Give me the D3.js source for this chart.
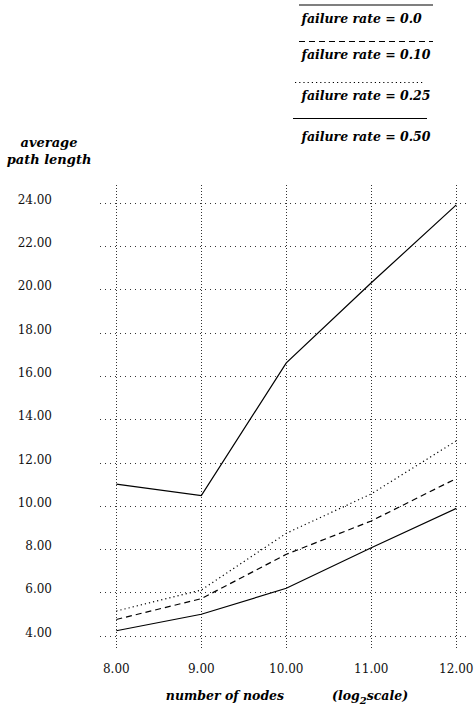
<!DOCTYPE html>
<html><head><meta charset="utf-8">
<script src="https://cdn.jsdelivr.net/npm/d3@7"></script>
<style>
html,body{margin:0;padding:0;background:#fff;}
svg{display:block;}
.tick{font-family:"DejaVu Serif",serif;font-size:12px;fill:#111;}
.bi{font-family:"DejaVu Serif",serif;font-size:12.5px;font-weight:bold;font-style:italic;fill:#000;}
.bi13{font-size:13px;}
</style>
</head><body>
<script>
const xValues = [8, 9, 10, 11, 12];
const xTicks = [8, 9, 10, 11, 12];
const yTicks = [4, 6, 8, 10, 12, 14, 16, 18, 20, 22, 24];
const seriesNames = ["failure rate = 0.0", "failure rate = 0.10", "failure rate = 0.25", "failure rate = 0.50"];
const rate00 = [4.23, 4.99, 6.19, 8.06, 9.88];
const rate10 = [4.75, 5.71, 7.76, 9.3, 11.26];
const rate25 = [5.14, 6.11, 8.73, 10.55, 13.0];
const rate50 = [11.0, 10.47, 16.6, 20.3, 23.9];
const seriesValues = [rate00, rate10, rate25, rate50];
const seriesDash = [null, "6,4", "1.2,3", null];

const W = 474, H = 708;
const svg = d3.select("body").append("svg").attr("width", W).attr("height", H);

const x = d3.scaleLinear().domain([8, 12]).range([116.3, 456.3]);
const y = d3.scaleLinear().domain([4, 24]).range([635.7, 202.7]);

// grid
const gx = svg.append("g");
gx.selectAll("line.h").data(yTicks).join("line")
  .attr("x1", 100).attr("x2", 470)
  .attr("y1", d => Math.round(y(d)) + 0.5).attr("y2", d => Math.round(y(d)) + 0.5)
  .attr("stroke", "#333").attr("stroke-width", 1).attr("stroke-dasharray", "1,4");
gx.selectAll("line.v").data(xTicks).join("line")
  .attr("y1", 185).attr("y2", 649)
  .attr("x1", d => Math.round(x(d)) + 0.5).attr("x2", d => Math.round(x(d)) + 0.5)
  .attr("stroke", "#333").attr("stroke-width", 1).attr("stroke-dasharray", "1,2");

// y tick labels
svg.append("g").selectAll("text").data(yTicks).join("text")
  .attr("class", "tick").attr("text-anchor", "end")
  .attr("x", 52).attr("y", d => y(d) + 1)
  .text(d => d3.format(".2f")(d));

// x tick labels
svg.append("g").selectAll("text").data(xTicks).join("text")
  .attr("class", "tick").attr("text-anchor", "middle")
  .attr("x", d => x(d)).attr("y", 673)
  .text(d => d3.format(".2f")(d));

// lines
const line = d3.line().x((d, i) => x(xValues[i])).y(d => y(d));
svg.append("g").selectAll("path").data(seriesValues).join("path")
  .attr("d", d => line(d))
  .attr("fill", "none").attr("stroke", "#000").attr("stroke-width", 1.2)
  .attr("stroke-dasharray", (d, i) => seriesDash[i]);

// axis titles
const yt = svg.append("text").attr("class", "bi bi13").attr("text-anchor", "middle");
yt.append("tspan").attr("x", 49).attr("y", 147).text("average");
yt.append("tspan").attr("x", 49).attr("y", 163.5).text("path length");

svg.append("text").attr("class", "bi").attr("text-anchor", "middle")
  .attr("x", 225).attr("y", 700).text("number of nodes");
const lt = svg.append("text").attr("class", "bi").attr("x", 332).attr("y", 700);
lt.append("tspan").text("(log");
lt.append("tspan").attr("dy", 4).style("font-size", "10px").text("2");
lt.append("tspan").attr("dy", -4).text("scale)");

// legend
const legLines = [
  {x1: 299, x2: 433, y: 5},
  {x1: 299, x2: 433, y: 41.5},
  {x1: 295, x2: 425, y: 82.5},
  {x1: 293, x2: 427, y: 118.5}
];
const legTextY = [22.7, 58.7, 100, 141];
const lg = svg.append("g");
lg.selectAll("line").data(legLines).join("line")
  .attr("x1", d => d.x1).attr("x2", d => d.x2)
  .attr("y1", d => d.y).attr("y2", d => d.y)
  .attr("stroke", "#000").attr("stroke-width", 1.2)
  .attr("stroke-dasharray", (d, i) => seriesDash[i]);
lg.selectAll("text").data(seriesNames).join("text")
  .attr("class", "bi").attr("x", 301.5).attr("y", (d, i) => legTextY[i])
  .text(d => d);
</script>
</body></html>
